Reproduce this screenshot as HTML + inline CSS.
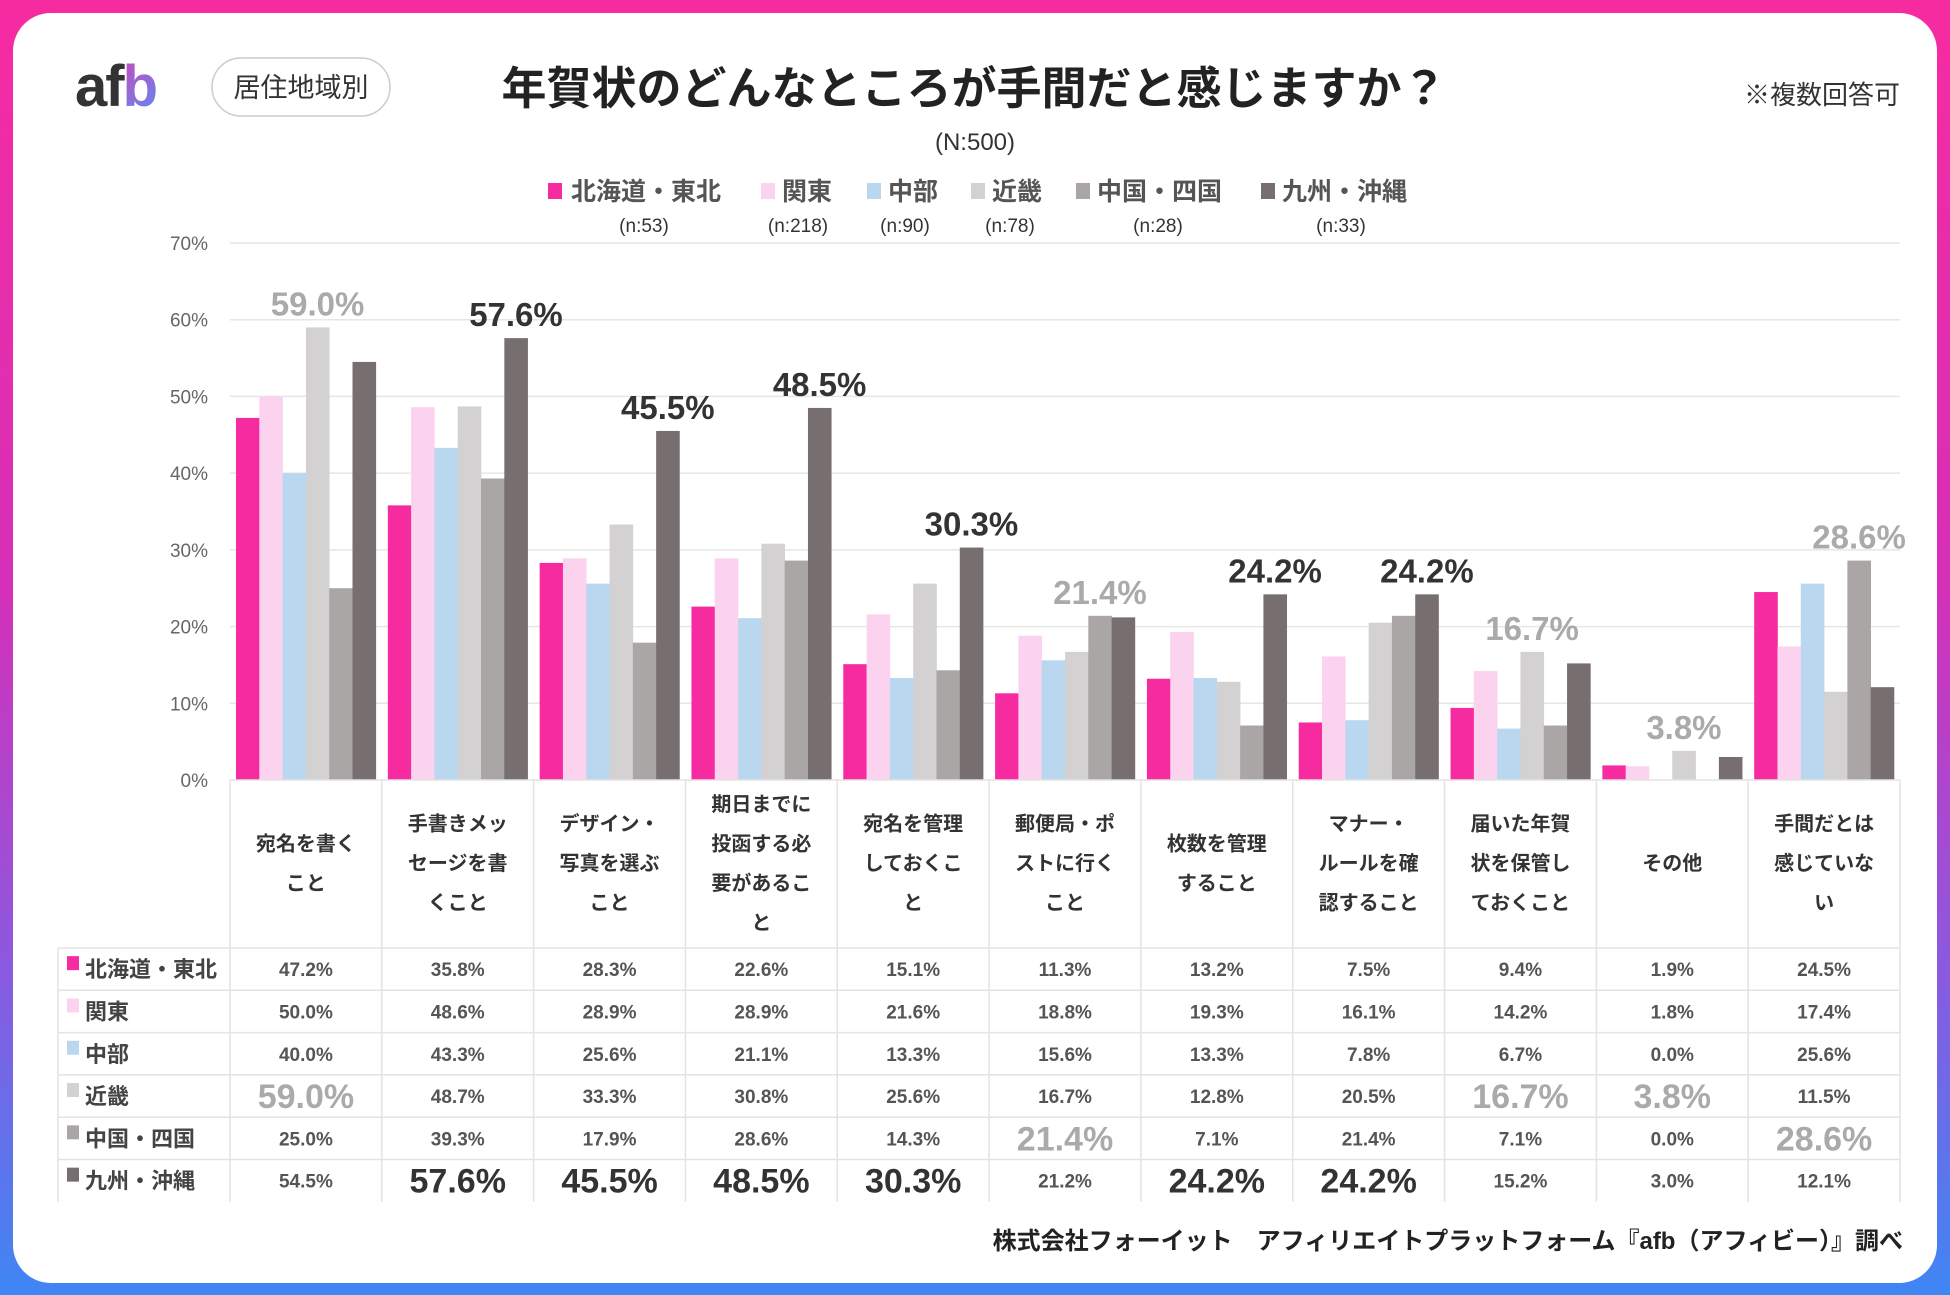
<!DOCTYPE html>
<html><head><meta charset="utf-8">
<style>
html,body{margin:0;padding:0;width:1950px;height:1295px;overflow:hidden;}
svg{display:block;font-family:"Liberation Sans","Noto Sans CJK JP",sans-serif;}
</style></head>
<body>
<svg id="chart" width="1950" height="1295" viewBox="0 0 1950 1295">
<defs>
<linearGradient id="frame" x1="0" y1="0" x2="0" y2="1">
<stop offset="0" stop-color="#f72ba0"/><stop offset="0.45" stop-color="#d62fb8"/><stop offset="0.75" stop-color="#8a5ae0"/><stop offset="1" stop-color="#3f86f4"/>
</linearGradient>
<linearGradient id="logob" x1="0" y1="0" x2="1" y2="1">
<stop offset="0" stop-color="#f72ba0"/><stop offset="1" stop-color="#5b8df5"/>
</linearGradient>
</defs>
<rect x="0" y="0" width="1950" height="1295" fill="url(#frame)"/>
<rect x="13" y="13" width="1924" height="1270" rx="38" fill="#fff"/>
<g>
<text x="75" y="106" font-size="58" font-weight="bold" fill="#333" letter-spacing="-2">af<tspan fill="url(#logob)">b</tspan></text>
</g>
<rect x="212" y="58" width="178" height="58" rx="29" fill="#fff" stroke="#ccc" stroke-width="1.5"/>
<text x="301" y="97" font-size="27" text-anchor="middle" fill="#333">居住地域別</text>
<text x="974" y="104" font-size="45" font-weight="bold" text-anchor="middle" fill="#222">年賀状のどんなところが手間だと感じますか？</text>
<text x="1900" y="104" font-size="26" text-anchor="end" fill="#333">※複数回答可</text>
<text x="975" y="150" font-size="24" text-anchor="middle" fill="#333">(N:500)</text>
<g id="legend"></g>
<g id="grid"></g>
<g id="yaxis"></g>
<g id="bars"></g>
<g id="table"></g>
<text x="1903" y="1249" font-size="24" font-weight="bold" text-anchor="end" fill="#222">株式会社フォーイット　アフィリエイトプラットフォーム『afb（アフィビー）』調べ</text>
</svg>
<script>
const categories = [
 ["宛名を書く","こと"],
 ["手書きメッ","セージを書","くこと"],
 ["デザイン・","写真を選ぶ","こと"],
 ["期日までに","投函する必","要があるこ","と"],
 ["宛名を管理","しておくこ","と"],
 ["郵便局・ポ","ストに行く","こと"],
 ["枚数を管理","すること"],
 ["マナー・","ルールを確","認すること"],
 ["届いた年賀","状を保管し","ておくこと"],
 ["その他"],
 ["手間だとは","感じていな","い"]
];
const seriesNames = ["北海道・東北","関東","中部","近畿","中国・四国","九州・沖縄"];
const seriesN = ["(n:53)","(n:218)","(n:90)","(n:78)","(n:28)","(n:33)"];
const hokkaidoTohoku = [47.2,35.8,28.3,22.6,15.1,11.3,13.2,7.5,9.4,1.9,24.5];
const kanto = [50.0,48.6,28.9,28.9,21.6,18.8,19.3,16.1,14.2,1.8,17.4];
const chubu = [40.0,43.3,25.6,21.1,13.3,15.6,13.3,7.8,6.7,0.0,25.6];
const kinki = [59.0,48.7,33.3,30.8,25.6,16.7,12.8,20.5,16.7,3.8,11.5];
const chugokuShikoku = [25.0,39.3,17.9,28.6,14.3,21.4,7.1,21.4,7.1,0.0,28.6];
const kyushuOkinawa = [54.5,57.6,45.5,48.5,30.3,21.2,24.2,24.2,15.2,3.0,12.1];
const yTicks = [0,10,20,30,40,50,60,70];

const series = [hokkaidoTohoku,kanto,chubu,kinki,chugokuShikoku,kyushuOkinawa];
const colors = ["#f72ba0","#fcd3ee","#b9d7ef","#d3d1d2","#a9a6a5","#776f6f"];
const hiColors = ["#333","#aaa","#aaa","#aaa","#aaa","#333"];
const NS="http://www.w3.org/2000/svg";
const plotL=230, plotR=1900, y0=780, y70=243;
const groupW=(plotR-plotL)/categories.length;
const barW=23.3, pad=(groupW-6*barW)/2;
function yScale(v){return y0-(v/70)*(y0-y70);}
function xGroup(i){return plotL+i*groupW;}
function mk(tag,attrs,parent){const e=document.createElementNS(NS,tag);for(const k in attrs)e.setAttribute(k,attrs[k]);parent.appendChild(e);return e;}
const fmt=v=>v.toFixed(1)+"%";

const grid=document.getElementById('grid'), yax=document.getElementById('yaxis');
yTicks.forEach(t=>{
 const y=yScale(t);
 if(t>0){const l=mk('line',{x1:plotL,x2:plotR,y1:y,y2:y,stroke:'#e6e6e6','stroke-width':1.5},grid);
 
 }
 const tx=mk('text',{x:208,y:y+7,'font-size':19,'text-anchor':'end',fill:'#666'},yax);
 tx.textContent=t+"%";
 
 
});

const leg=document.getElementById('legend');
const legSq=[548,761,867,971,1076,1261], legTx=[571,782,888,992,1097,1282], legN=[644,798,905,1010,1158,1341];
seriesNames.forEach((n,s)=>{
 const g=mk('g',{},leg);
 
 
 mk('rect',{x:legSq[s],y:183,width:14,height:16,fill:colors[s]},g);
 const t=mk('text',{x:legTx[s],y:200,'font-size':25,'font-weight':'bold',fill:'#555'},g);t.textContent=n;
 const t2=mk('text',{x:legN[s],y:232,'font-size':19,'text-anchor':'middle',fill:'#333'},g);t2.textContent=seriesN[s];
});

const bars=document.getElementById('bars');
const maxIdx=categories.map((c,i)=>{let m=0;for(let s=1;s<6;s++)if(series[s][i]>series[m][i])m=s;return m;});
categories.forEach((c,i)=>{
 series.forEach((arr,s)=>{
  const v=arr[i], x=xGroup(i)+pad+s*barW, y=yScale(v);
  const r=mk('rect',{x:x,y:y,width:barW+0.3,height:y0-y,fill:colors[s]},bars);
  
  
 });
 const m=maxIdx[i], v=series[m][i];
 const t=mk('text',{x:xGroup(i)+pad+(m+0.5)*barW,y:yScale(v)-12,'font-size':33,'font-weight':'bold','text-anchor':'middle',fill:hiColors[m]},bars);
 t.textContent=fmt(v);
 
 
});

const tb=document.getElementById('table');
const hdrBot=948, rowH=42.3, tabL=58;
const lineC='#e3e3e3';
for(let i=0;i<=categories.length;i++){
 const x=xGroup(i);
 mk('line',{x1:x,x2:x,y1:y0,y2:hdrBot+6*rowH,stroke:lineC,'stroke-width':1.5},tb);
}
mk('line',{x1:tabL,x2:tabL,y1:hdrBot,y2:hdrBot+6*rowH,stroke:lineC,'stroke-width':1.5},tb);
mk('line',{x1:plotL,x2:plotR,y1:y0,y2:y0,stroke:lineC,'stroke-width':1.5},tb);
for(let r=0;r<=5;r++){
 const y=hdrBot+r*rowH;
 mk('line',{x1:tabL,x2:plotR,y1:y,y2:y,stroke:lineC,'stroke-width':1.5},tb);
}
categories.forEach((lines,i)=>{
 const cx=xGroup(i)+groupW/2, lh=39.5, cy=862;
 const startY=cy-(lines.length-1)*lh/2+8;
 lines.forEach((ln,k)=>{
  const t=mk('text',{x:cx,y:startY+k*lh,'font-size':20,'font-weight':'bold','text-anchor':'middle',fill:'#333'},tb);
  t.textContent=ln;
  
  
 });
});
seriesNames.forEach((n,s)=>{
 const yc=hdrBot+(s+0.5)*rowH;
 mk('rect',{x:67,y:yc-13,width:12,height:14,fill:colors[s]},tb);
 const t=mk('text',{x:85,y:yc+8,'font-size':22,'font-weight':'bold',fill:'#444'},tb);t.textContent=n;
 
 
 series[s].forEach((v,i)=>{
  const hi=maxIdx[i]===s;
  const t2=mk('text',{x:xGroup(i)+groupW/2,y:yc+(hi?12:7),'font-size':hi?34:19,'font-weight':'bold','text-anchor':'middle',fill:hi?hiColors[s]:'#555'},tb);
  t2.textContent=fmt(v);
  
  
 });
});
</script>
</body></html>
